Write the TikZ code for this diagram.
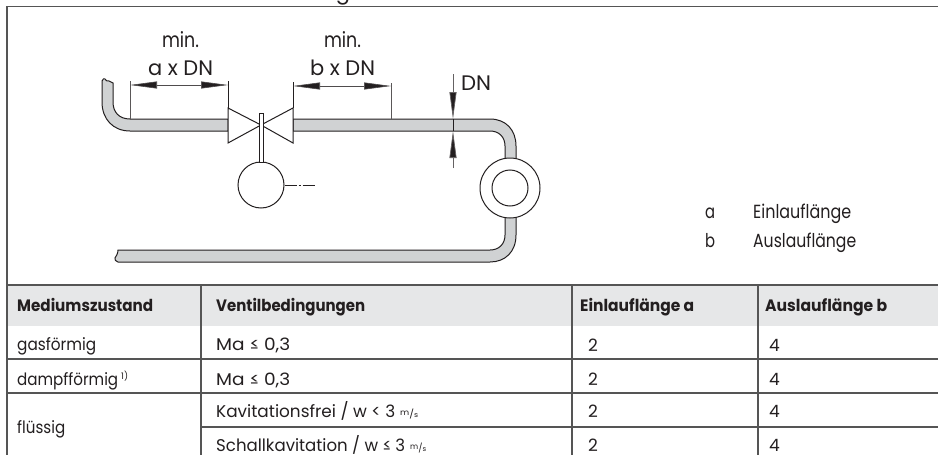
\documentclass[tikz,border=0pt]{standalone}
\usepackage{fontspec}
\usepackage{graphicx}
\setmainfont{Poppins}
\usetikzlibrary{arrows.meta}
\newcommand{\fitw}[2]{\resizebox{#1pt}{\height}{#2}}
\newcommand{\msunit}[1]{\hspace{5pt}\fitw{#1}{\raisebox{1.5pt}{\fontsize{8}{8}\selectfont m}\fontsize{9}{9}\selectfont/\fontsize{7}{7}\selectfont s}}
\definecolor{pipegray}{RGB}{208,210,211}
\definecolor{headgray}{RGB}{230,231,232}
\definecolor{rulegray}{RGB}{85,85,85}
\definecolor{inkc}{RGB}{35,31,32}
\tikzset{
  x=1pt,y=-1pt,
  pipe/.style={draw=inkc,fill=pipegray,line width=1pt},
  sym/.style={draw=inkc,fill=white,line width=1pt},
  thin line/.style={draw=inkc!75,line width=0.7pt},
  dimarrow/.style={draw=inkc!80,line width=0.6pt,{Triangle[length=27pt,width=7pt,fill=inkc]}-{Triangle[length=27pt,width=7pt,fill=inkc]}},
  tip/.style={draw=inkc!70,line width=0.7pt,-{Triangle[length=27pt,width=7pt,fill=inkc]}},
  rulel/.style={draw=rulegray,line width=1.1pt},
  lab/.style={font=\fontsize{21}{22}\selectfont,text=inkc,inner sep=0pt,anchor=base},
  keyt/.style={font=\fontsize{19}{22}\selectfont,text=inkc,inner sep=0pt,anchor=base west},
  cell/.style={font=\fontsize{17}{18}\selectfont,text=inkc,inner sep=0pt,anchor=base west},
  headc/.style={cell,font=\fontsize{16.5}{18}\selectfont\bfseries},
}
\begin{document}
\begin{tikzpicture}
\useasboundingbox (0,0) rectangle (938,455);
\fill[white] (0,0) rectangle (938,455);
\fill[headgray] (7,285) rectangle (938,326);
\coordinate (tl) at (7,6.5); \coordinate (tr) at (938,6.5); \coordinate (bl) at (7,455);
\draw[rulel] (tr) -- (tl) -- (bl);
\draw[rulel] (7,285) -- (938,285);
\draw[rulel] (7,359) -- (938,359);
\draw[rulel] (7,393) -- (938,393);
\draw[rulel] (201,427) -- (938,427);
\foreach \x in {201,572,758} \draw[rulel] (\x,285) -- (\x,455);
\draw[pipe] (102,81) -- (102,102) .. controls (102,119) and (113,131) .. (130,131) -- (228,131) -- (228,119) -- (130,119)
  .. controls (119,119) and (113,112) .. (113,102) -- (113,83) .. controls (112,83) and (110,81) .. (109,81) .. controls (107,82) and (106,80) .. (105,79) .. controls (104,78) and (103,79) .. (102,81) -- cycle;
\draw[pipe] (293,119) -- (490,119) .. controls (506,119) and (516,130) .. (516,146) -- (516,162) -- (505,162) -- (505,146) .. controls (505,137) and (499,131) .. (490,131) -- (293,131) -- cycle;
\draw[pipe] (505,210) -- (516,210) -- (516,235) .. controls (516,252) and (505,262) .. (490,262) -- (118,262) .. controls (116,261) and (114,260) .. (115,258) .. controls (116,256) and (118,254) .. (118,250) -- (490,250) .. controls (499,250) and (505,244) .. (505,235) -- cycle;
\node[circle,sym,minimum size=60pt,inner sep=0pt] (meter) at (510,188) {};
\node[circle,sym,minimum size=36pt,inner sep=0pt] (meterin) at (510,188) {};
\coordinate (vc) at (261,125);
\draw[sym] (228,108) -- (vc) -- (228,143) -- cycle;
\draw[sym] (293,108) -- (vc) -- (293,143) -- cycle;
\node[circle,sym,minimum size=46pt,inner sep=0pt] (act) at (261,185) {};
\draw[sym] (259,162) rectangle (263,113);
\coordinate (actend) at (316,185);
\draw[draw=inkc,line width=0.7pt,dash pattern=on 12pt off 2pt on 2pt off 2pt] (act.east) -- (actend);
\draw[thin line] (130,81) -- (130,119);
\draw[draw=inkc,line width=0.8pt] (228,81) -- (228,108);
\draw[draw=inkc,line width=0.8pt] (293,82) -- (293,108);
\draw[thin line] (391,83) -- (391,119);
\draw[dimarrow] (130,85) -- (228,85);
\draw[dimarrow] (293,86) -- (391,86);
\draw[tip] (453,74) -- (453,119);
\draw[tip] (453,168) -- (453,131);
\draw[draw=inkc,line width=0.5pt] (453,119) -- (453,131);
\node[lab] (t0) at (343,-1) {g};
\node[lab] (l1) at (180.5,48) {\fitw{37}{min.}};
\node[lab] (l2) at (180.5,75) {\fitw{65}{a x DN}};
\node[lab] (l3) at (342.5,48) {\fitw{37}{min.}};
\node[lab] (l4) at (342.5,75) {\fitw{65}{b x DN}};
\node[lab] (l5) at (476,90) {\fitw{30}{DN}};
\node[keyt] (k1) at (705,218) {\fitw{10}{a}};
\node[keyt] (k2) at (753,218) {\fitw{98}{Einlauflänge}};
\node[keyt] (k3) at (705,247) {\fitw{10}{b}};
\node[keyt] (k4) at (753,247) {\fitw{103}{Auslauflänge}};
\node[headc] (h1) at (17,311) {\fitw{136}{Mediumszustand}};
\node[headc] (h2) at (216,311) {\fitw{149}{Ventilbedingungen}};
\node[headc] (h3) at (580,311) {\fitw{114}{Einlauflänge a}};
\node[headc] (h4) at (765,311) {\fitw{122}{Auslauflänge b}};
\node[cell] (c11) at (17,350) {\fitw{79}{gasförmig}};
\node[cell] (c12) at (216,350) {\fitw{74}{Ma ≤ 0,3}};
\node[cell] (c13) at (588,351) {2};
\node[cell] (c14) at (769,351) {4};
\node[cell] (c21) at (17,385) {\fitw{101}{dampfförmig}\hspace{3pt}\raisebox{6pt}{\fontsize{9}{9}\selectfont 1)}};
\node[cell] (c22) at (216,385) {\fitw{74}{Ma ≤ 0,3}};
\node[cell] (c23) at (588,385) {2};
\node[cell] (c24) at (769,385) {4};
\node[cell] (c31) at (17,433) {\fitw{48}{flüssig}};
\node[cell] (c32) at (216,417) {\fitw{179}{Kavitationsfrei / w < 3}\msunit{18}};
\node[cell] (c33) at (588,417) {2};
\node[cell] (c34) at (769,417) {4};
\node[cell] (c42) at (216,451) {\fitw{189}{Schallkavitation / w ≤ 3}\msunit{16}};
\node[cell] (c43) at (588,451) {2};
\node[cell] (c44) at (769,451) {4};
\end{tikzpicture}
\end{document}
